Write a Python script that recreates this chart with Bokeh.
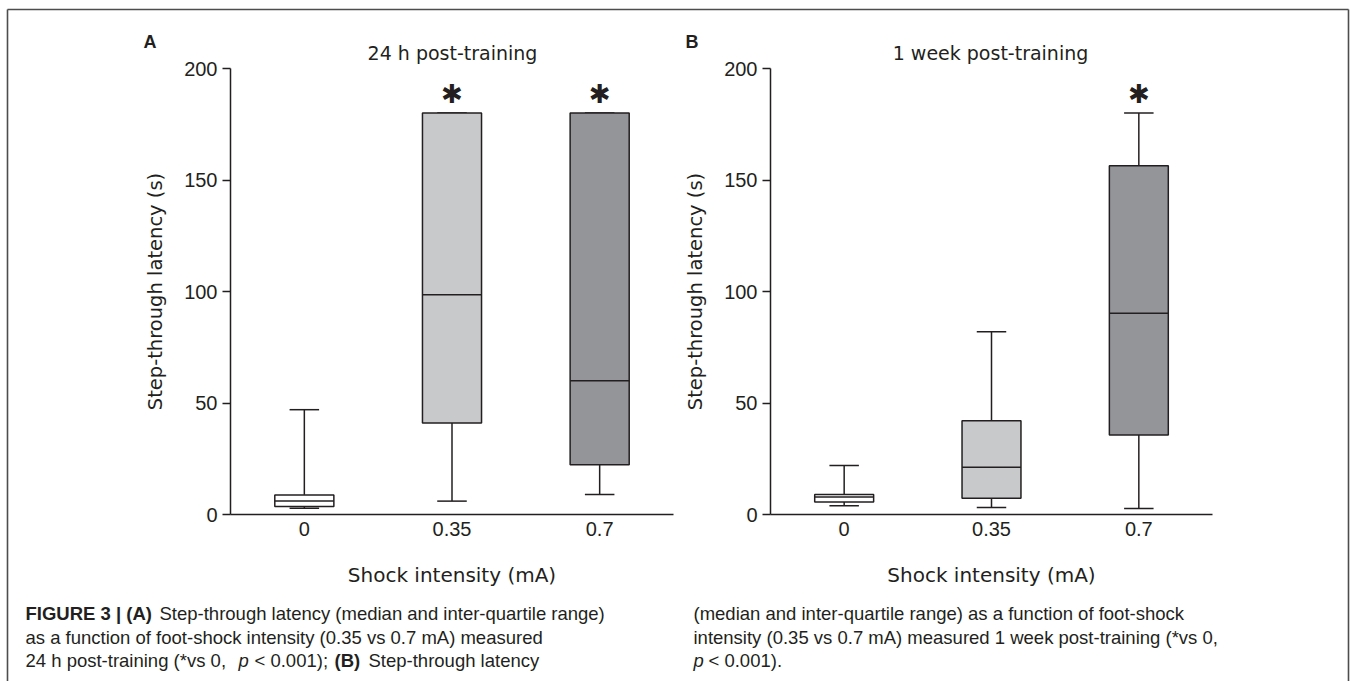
from bokeh.plotting import figure
from bokeh.models import ColumnDataSource, FactorRange, Range1d, FixedTicker
from bokeh.core.properties import value
from bokeh.transform import dodge
from bokeh.layouts import row
from bokeh.embed import file_html
from bokeh.resources import INLINE

# ---------------- data ----------------
intensity = ["0", "0.35", "0.7"]
box_fill = ["#ffffff", "#c8c9cb", "#939598"]
y_ticks = [0, 50, 100, 150, 200]

# Panel A: 24 h post-training
a_low = [2.8, 6.0, 9.0]
a_q1 = [3.6, 41.0, 22.3]
a_median = [6.0, 98.5, 60.0]
a_q3 = [8.8, 180.0, 180.0]
a_high = [47.0, 180.0, 180.0]
a_sig = ["", "\u2731", "\u2731"]

# Panel B: 1 week post-training
b_low = [3.9, 3.1, 2.7]
b_q1 = [5.6, 7.3, 35.7]
b_median = [7.8, 21.2, 90.3]
b_q3 = [9.0, 42.0, 156.4]
b_high = [22.0, 82.0, 180.0]
b_sig = ["", "", "\u2731"]

INK = "#231f20"
H = 681
FRAME_TOP = 68
FRAME_BOTTOM = 514
Y_MAX = 200
TEXT_SHIFT = 6  # compensates the baseline placement of svg text glyphs


def panel(width, border_left, border_right, letter, letter_x, title, title_x,
          low, q1, med, q3, high, sig, captions, border_lines):
    p = figure(width=width, height=H,
               x_range=FactorRange(*intensity, range_padding=0),
               y_range=Range1d(0, Y_MAX),
               output_backend="svg", toolbar_location=None,
               min_border_left=border_left, min_border_right=border_right,
               min_border_top=FRAME_TOP, min_border_bottom=H - FRAME_BOTTOM,
               background_fill_color="white", border_fill_color="white")
    p.xgrid.visible = False
    p.ygrid.visible = False
    p.outline_line_color = None

    frame_w = width - border_left - border_right
    ppx = frame_w / len(intensity)
    ppy = (FRAME_BOTTOM - FRAME_TOP) / Y_MAX

    # canvas pixel -> data coordinates (for decorations outside the frame)
    def dx(cx):
        return (cx - border_left) / ppx

    def dy(cy):
        return (FRAME_BOTTOM - cy) / ppy

    src = ColumnDataSource(dict(cat=intensity, low=low, q1=q1, med=med, q3=q3,
                                high=high, fill=box_fill, sig=sig,
                                star=[h + 8.5 for h in high]))
    lw = 1.5
    # whisker stems
    p.segment(x0="cat", y0="q3", x1="cat", y1="high", source=src, line_color=INK, line_width=lw)
    p.segment(x0="cat", y0="q1", x1="cat", y1="low", source=src, line_color=INK, line_width=lw)
    # whisker caps
    p.segment(x0=dodge("cat", -0.1, range=p.x_range), y0="high",
              x1=dodge("cat", 0.1, range=p.x_range), y1="high",
              source=src, line_color=INK, line_width=lw)
    p.segment(x0=dodge("cat", -0.1, range=p.x_range), y0="low",
              x1=dodge("cat", 0.1, range=p.x_range), y1="low",
              source=src, line_color=INK, line_width=lw)
    # boxes
    p.vbar(x="cat", width=0.4, bottom="q1", top="q3", source=src,
           fill_color="fill", line_color=INK, line_width=lw)
    # medians
    p.segment(x0=dodge("cat", -0.2, range=p.x_range), y0="med",
              x1=dodge("cat", 0.2, range=p.x_range), y1="med",
              source=src, line_color=INK, line_width=lw)
    # significance stars
    p.text(x="cat", y="star", text="sig", source=src, text_align="center",
           text_baseline="middle", text_font_size="26px", text_color=INK,
           text_font=value("DejaVu Sans"))

    # axes
    yax = p.yaxis[0]
    yax.ticker = FixedTicker(ticks=y_ticks)
    yax.minor_tick_line_color = None
    yax.major_tick_in = 0
    yax.major_tick_out = 8
    yax.major_tick_line_color = INK
    yax.major_tick_line_width = 1.3
    yax.axis_line_color = INK
    yax.axis_line_width = 1.5
    yax.major_label_text_font = "Liberation Sans"
    yax.major_label_text_font_size = "20px"
    yax.major_label_text_color = INK
    yax.major_label_standoff = 5
    yax.axis_label = "Step-through latency (s)"
    yax.axis_label_text_font = "DejaVu Sans"
    yax.axis_label_text_font_size = "19.5px"
    yax.axis_label_text_font_style = "normal"
    yax.axis_label_text_color = INK
    yax.axis_label_standoff = 14

    xax = p.xaxis[0]
    xax.major_tick_line_color = None
    xax.minor_tick_line_color = None
    xax.major_tick_in = 0
    xax.major_tick_out = 0
    xax.axis_line_color = INK
    xax.axis_line_width = 1.5
    xax.major_label_text_font = "Liberation Sans"
    xax.major_label_text_font_size = "20px"
    xax.major_label_text_color = INK
    xax.major_label_standoff = 7
    xax.axis_label = "Shock intensity (mA)"
    xax.axis_label_text_font = "DejaVu Sans"
    xax.axis_label_text_font_size = "20px"
    xax.axis_label_text_font_style = "normal"
    xax.axis_label_text_color = INK
    xax.axis_label_standoff = 24

    def put_text(cx, cy, txt, font, size, style="normal", align="left"):
        p.text(x=[dx(cx)], y=[dy(cy - TEXT_SHIFT)], text=[txt], text_font=value(font),
               text_font_size=size, text_font_style=style, text_color=INK,
               text_align=align, text_baseline="alphabetic", level="overlay")

    put_text(letter_x, 47, letter, "Liberation Sans", "18px", "bold")
    put_text(title_x, 58, title, "DejaVu Sans", "19px", "normal", "center")
    for (cx, cy, txt, style) in captions:
        put_text(cx, cy, txt, "Liberation Sans", "18.5px", style)

    # outer figure border
    xs0, ys0, xs1, ys1 = [], [], [], []
    for (x0, y0, x1, y1) in border_lines:
        xs0.append(dx(x0)); ys0.append(dy(y0)); xs1.append(dx(x1)); ys1.append(dy(y1))
    p.segment(x0=xs0, y0=ys0, x1=xs1, y1=ys1, line_color="#4d4d4d", line_width=1.6,
              level="overlay")
    return p


caps_a = [
    (25, 619, "FIGURE 3 | (A)", "bold"),
    (159, 619, "Step-through latency (median and inter-quartile range)", "normal"),
    (25, 643, "as a function of foot-shock intensity (0.35 vs 0.7 mA) measured", "normal"),
    (25, 666, "24 h post-training (*vs 0,", "normal"),
    (238, 666, "p", "italic"),
    (254, 666, "< 0.001);", "normal"),
    (334, 666, "(B)", "bold"),
    (368, 666, "Step-through latency", "normal"),
]
caps_b = [
    (13, 619, "(median and inter-quartile range) as a function of foot-shock", "normal"),
    (13, 643, "intensity (0.35 vs 0.7 mA) measured 1 week post-training (*vs 0,", "normal"),
    (13, 666, "p", "italic"),
    (28, 666, "< 0.001).", "normal"),
]

pA = panel(680, 230, 7, "A", 143, "24 h post-training", 452,
           a_low, a_q1, a_median, a_q3, a_high, a_sig, caps_a,
           [(7, 9, 690, 9), (7, 9, 7, 700)])
pB = panel(671, 90, 139, "B", 5, "1 week post-training", 310,
           b_low, b_q1, b_median, b_q3, b_high, b_sig, caps_b,
           [(-10, 9, 668, 9), (668, 9, 668, 700)])

layout = row(pA, pB, spacing=0)
open("out.html", "w").write(file_html(layout, INLINE))
